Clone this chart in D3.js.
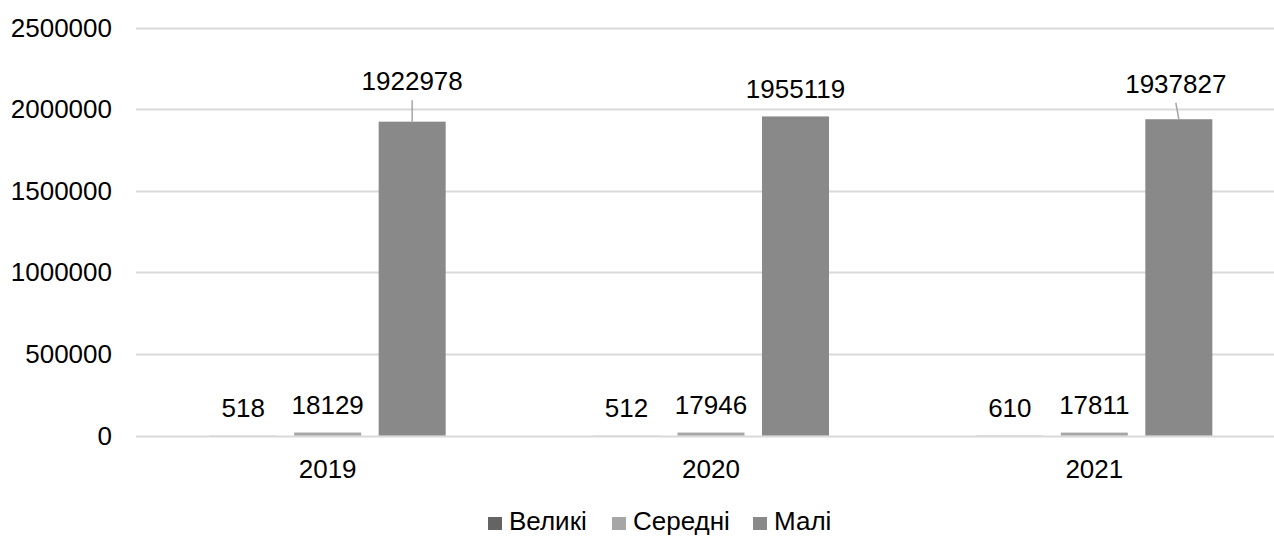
<!DOCTYPE html>
<html>
<head>
<meta charset="utf-8">
<script src="https://cdn.jsdelivr.net/npm/d3@7"></script>
<style>
  body { margin: 0; background: #fff; }
  svg { display: block; font-family: "Liberation Sans", Arial, sans-serif; }
</style>
</head>
<body>
<div id="chart"></div>
<script>
const years = ["2019", "2020", "2021"];
const series = ["Великі", "Середні", "Малі"];
const large = [518, 512, 610];
const medium = [18129, 17946, 17811];
const small = [1922978, 1955119, 1937827];
const yTicks = [0, 500000, 1000000, 1500000, 2000000, 2500000];

const colors = d3.scaleOrdinal()
  .domain(series)
  .range(["#646464", "#a6a6a6", "#898989"]);

// data labels for "Малі" that were dragged up (with leader lines)
const moved = {"2019": {dx: 0, dy: -13}, "2021": {dx: -3, dy: -8}};

const width = 1274, height = 536;
const margins = {top: 27.5, right: -12, bottom: 100.5, left: 136};
const fontSize = "26px";

const data = [];
years.forEach((year, i) => {
  data.push({year, series: series[0], value: large[i]});
  data.push({year, series: series[1], value: medium[i]});
  data.push({year, series: series[2], value: small[i]});
});

const svg = d3.select("#chart")
  .append("svg")
  .attr("width", width)
  .attr("height", height);

const x0 = d3.scaleBand()
  .domain(years)
  .range([margins.left, width - margins.right]);

const x1 = d3.scaleBand()
  .domain(series)
  .range([-126.75, 126.75])
  .paddingInner(0.207)
  .paddingOuter(0.1035);

const yScale = d3.scaleLinear()
  .domain([0, 2500000])
  .range([height - margins.bottom, margins.top]);

// gridlines
svg.append("g")
  .selectAll("line")
  .data(yTicks)
  .join("line")
    .attr("x1", margins.left)
    .attr("x2", width - margins.right)
    .attr("y1", d => Math.round(yScale(d)) + 0.5)
    .attr("y2", d => Math.round(yScale(d)) + 0.5)
    .attr("stroke", "#d9d9d9")
    .attr("stroke-width", 2);

// y labels
svg.append("g")
  .selectAll("text")
  .data(yTicks)
  .join("text")
    .attr("x", 112)
    .attr("y", d => yScale(d))
    .attr("dy", "0.35em")
    .attr("text-anchor", "end")
    .style("font-size", fontSize)
    .text(d => d);

const cx = d => x0(d.year) + x0.bandwidth() / 2 + x1(d.series);
const isMoved = d => moved[d.year] && d.series == "Малі";

svg.append("g")
  .selectAll("rect")
  .data(data)
  .join("rect")
    .attr("x", d => cx(d))
    .attr("y", d => yScale(d.value))
    .attr("width", x1.bandwidth())
    .attr("height", d => yScale(0) - yScale(d.value))
    .attr("fill", d => colors(d.series));

// leader lines
svg.append("g")
  .selectAll("line")
  .data(data.filter(isMoved))
  .join("line")
    .attr("x1", d => cx(d) + x1.bandwidth() / 2 + moved[d.year].dx)
    .attr("y1", d => yScale(d.value) - 18.5 + moved[d.year].dy + 10)
    .attr("x2", d => cx(d) + x1.bandwidth() / 2)
    .attr("y2", d => yScale(d.value))
    .attr("stroke", "#a6a6a6")
    .attr("stroke-width", 1.5);

// value labels
svg.append("g")
  .selectAll("text")
  .data(data)
  .join("text")
    .attr("x", d => cx(d) + x1.bandwidth() / 2 + (isMoved(d) ? moved[d.year].dx : 0))
    .attr("y", d => yScale(d.value) - 18.5 + (isMoved(d) ? moved[d.year].dy : 0))
    .attr("text-anchor", "middle")
    .style("font-size", fontSize)
    .text(d => d.value);

// x labels
svg.append("g")
  .selectAll("text")
  .data(years)
  .join("text")
    .attr("x", d => x0(d) + x0.bandwidth() / 2)
    .attr("y", 478)
    .attr("text-anchor", "middle")
    .style("font-size", fontSize)
    .text(d => d);

// legend
const legendX = [488, 612, 753];
const legend = svg.append("g")
  .selectAll("g")
  .data(series)
  .join("g")
    .attr("transform", (d, i) => `translate(${legendX[i]},517)`);

legend.append("rect")
  .attr("width", 14)
  .attr("height", 13)
  .attr("fill", d => colors(d));

legend.append("text")
  .attr("x", 21)
  .attr("y", 13)
  .style("font-size", fontSize)
  .text(d => d);
</script>
</body>
</html>
